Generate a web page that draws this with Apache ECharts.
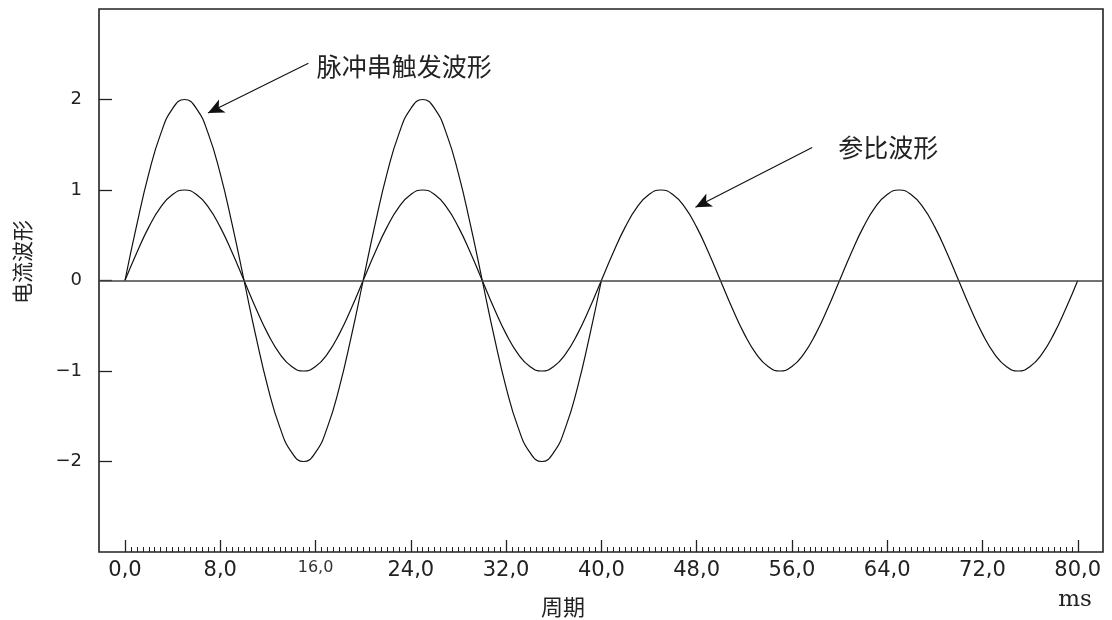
<!DOCTYPE html>
<html>
<head>
<meta charset="utf-8">
<script src="https://cdn.jsdelivr.net/npm/echarts@6/dist/echarts.min.js"></script>
<style>
  html, body { margin: 0; padding: 0; background: #fff; }
  #chart { width: 1112px; height: 620px; }
</style>
</head>
<body>
<div id="chart"></div>
<script>
// Time axis samples (ms)
const timeMs = [
  0, 1, 2, 3, 4, 5, 6, 7, 8, 9, 10, 11, 12, 13, 14, 15, 16, 17, 18, 19,
  20, 21, 22, 23, 24, 25, 26, 27, 28, 29, 30, 31, 32, 33, 34, 35, 36, 37, 38, 39,
  40, 41, 42, 43, 44, 45, 46, 47, 48, 49, 50, 51, 52, 53, 54, 55, 56, 57, 58, 59,
  60, 61, 62, 63, 64, 65, 66, 67, 68, 69, 70, 71, 72, 73, 74, 75, 76, 77, 78, 79, 80
];

// 参比波形: reference current, 0–80 ms
const referenceWave = [
  0, 0.31, 0.59, 0.81, 0.95, 1, 0.95, 0.81, 0.59, 0.31, 0, -0.31, -0.59, -0.81, -0.95, -1, -0.95, -0.81, -0.59, -0.31,
  0, 0.31, 0.59, 0.81, 0.95, 1, 0.95, 0.81, 0.59, 0.31, 0, -0.31, -0.59, -0.81, -0.95, -1, -0.95, -0.81, -0.59, -0.31,
  0, 0.31, 0.59, 0.81, 0.95, 1, 0.95, 0.81, 0.59, 0.31, 0, -0.31, -0.59, -0.81, -0.95, -1, -0.95, -0.81, -0.59, -0.31,
  0, 0.31, 0.59, 0.81, 0.95, 1, 0.95, 0.81, 0.59, 0.31, 0, -0.31, -0.59, -0.81, -0.95, -1, -0.95, -0.81, -0.59, -0.31, 0
];

// 脉冲串触发波形: burst-triggered current, 0–40 ms
const burstWave = [
  0, 0.62, 1.18, 1.62, 1.90, 2, 1.90, 1.62, 1.18, 0.62, 0, -0.62, -1.18, -1.62, -1.90, -2, -1.90, -1.62, -1.18, -0.62,
  0, 0.62, 1.18, 1.62, 1.90, 2, 1.90, 1.62, 1.18, 0.62, 0, -0.62, -1.18, -1.62, -1.90, -2, -1.90, -1.62, -1.18, -0.62, 0
];

// Axis ticks and labels
const xTickValues = [0, 8, 16, 24, 32, 40, 48, 56, 64, 72, 80];
const xTickLabels = ['0,0', '8,0', '16,0', '24,0', '32,0', '40,0', '48,0', '56,0', '64,0', '72,0', '80,0'];
const yTickValues = [-2, -1, 0, 1, 2];
const yTickLabels = ['\u22122', '\u22121', '0', '1', '2'];

// Annotation callouts: text anchor and arrow from/to, in data units
const callouts = [
  { text: '脉冲串触发波形', at: [16.1, 2.36], from: [15.4, 2.40], to: [6.97, 1.85] },
  { text: '参比波形', at: [59.9, 1.47], from: [57.7, 1.47], to: [47.9, 0.81] }
];

const minorTicks = [];
for (let v = 0; v <= 80; v += 0.5) minorTicks.push(v);

const CJK = '"Noto Sans CJK SC", "Noto Sans", sans-serif';
const NUM = '"DejaVu Sans", sans-serif';

const chart = echarts.init(document.getElementById('chart'));

chart.setOption({
  animation: false,
  backgroundColor: '#fff',
  grid: {
    left: 99, right: 9, top: 9, bottom: 68,
    show: true, borderColor: '#222', borderWidth: 1.6, backgroundColor: 'transparent'
  },
  xAxis: [
    {
      type: 'value', min: -2.18, max: 82.12, position: 'bottom',
      axisLine: { show: false, onZero: false },
      splitLine: { show: false },
      axisTick: { show: true, inside: true, length: 12, customValues: xTickValues, lineStyle: { color: '#222', width: 1.3 } },
      axisLabel: {
        show: true, customValues: xTickValues, margin: 8,
        fontFamily: NUM, fontSize: 21, color: '#222',
        formatter: function (v) {
          const i = xTickValues.indexOf(v);
          const s = i >= 0 ? xTickLabels[i] : '';
          return i === 2 ? '{s|' + s + '}' : s;
        },
        rich: { s: { fontFamily: NUM, fontSize: 16, color: '#333' } }
      }
    },
    {
      type: 'value', min: -2.18, max: 82.12, position: 'bottom',
      axisLine: { show: false, onZero: false },
      splitLine: { show: false },
      axisLabel: { show: false },
      axisTick: { show: true, inside: true, length: 5, customValues: minorTicks, lineStyle: { color: '#222', width: 1 } }
    }
  ],
  yAxis: {
    type: 'value', min: -3, max: 3, interval: 1,
    axisLine: { show: false, onZero: false },
    splitLine: { show: false },
    axisTick: { show: true, inside: true, length: 13, customValues: yTickValues, lineStyle: { color: '#222', width: 1.3 } },
    axisLabel: {
      show: true, customValues: yTickValues, margin: 17,
      fontFamily: NUM, fontSize: 18, color: '#222',
      formatter: function (v) {
        const i = yTickValues.indexOf(v);
        return i >= 0 ? yTickLabels[i] : '';
      }
    }
  },
  series: [
    {
      name: '参比波形',
      type: 'line',
      data: timeMs.map((t, i) => [t, referenceWave[i]]),
      smooth: true,
      showSymbol: false,
      lineStyle: { color: '#111', width: 1.2 },
      markLine: {
        silent: true,
        symbol: 'none',
        label: { show: false },
        lineStyle: { color: '#444', width: 1.5, type: 'solid' },
        data: [{ yAxis: 0 }]
      }
    },
    {
      name: '脉冲串触发波形',
      type: 'line',
      data: timeMs.slice(0, burstWave.length).map((t, i) => [t, burstWave[i]]),
      smooth: true,
      showSymbol: false,
      lineStyle: { color: '#111', width: 1.2 },
      markLine: {
        silent: true,
        symbol: ['none', 'arrow'],
        symbolSize: [11, 16],
        label: { show: false },
        lineStyle: { color: '#111', width: 1.1, type: 'solid' },
        data: callouts.map(c => [{ coord: c.from }, { coord: c.to }])
      },
      markPoint: {
        silent: true,
        symbol: 'circle',
        symbolSize: 0,
        data: callouts.map(c => ({
          coord: c.at,
          label: {
            show: true, position: 'right', distance: 0,
            formatter: c.text,
            fontFamily: CJK, fontSize: 25, color: '#222'
          }
        }))
      }
    }
  ],
  graphic: [
    {
      type: 'text', x: 22, y: 262, rotation: Math.PI / 2,
      style: { text: '电流波形', font: '21px ' + CJK, fill: '#222', align: 'center', verticalAlign: 'middle' }
    },
    {
      type: 'text', x: 563, y: 607,
      style: { text: '周期', font: '22px ' + CJK, fill: '#222', align: 'center', verticalAlign: 'middle' }
    },
    {
      type: 'text', x: 1075, y: 600,
      style: { text: 'ms', font: '23px "DejaVu Serif", serif', fill: '#222', align: 'center', verticalAlign: 'middle' }
    }
  ]
});
</script>
</body>
</html>
